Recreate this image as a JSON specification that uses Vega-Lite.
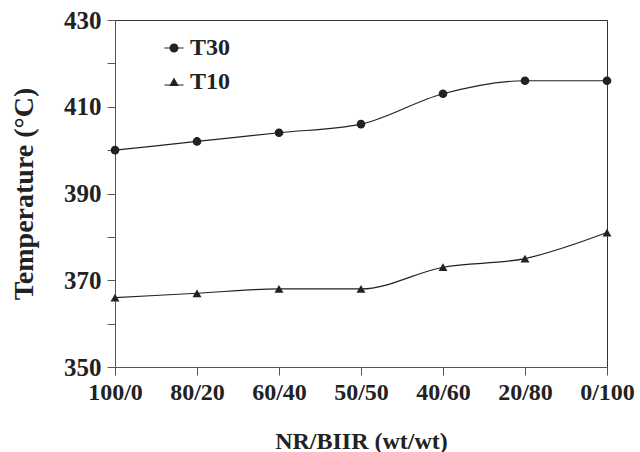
{
  "$schema": "https://vega.github.io/schema/vega-lite/v6.json",
  "width": 492,
  "height": 347,
  "autosize": {"type": "none"},
  "padding": {"left": 115, "top": 20, "right": 33, "bottom": 85},
  "background": "white",
  "config": {
    "view": {"stroke": "#333", "strokeWidth": 1},
    "font": "Liberation Serif"
  },
  "data": {
    "values": [
      {"blend": "100/0", "series": "T30", "temp": 400},
      {"blend": "80/20", "series": "T30", "temp": 402},
      {"blend": "60/40", "series": "T30", "temp": 404},
      {"blend": "50/50", "series": "T30", "temp": 406},
      {"blend": "40/60", "series": "T30", "temp": 413},
      {"blend": "20/80", "series": "T30", "temp": 416},
      {"blend": "0/100", "series": "T30", "temp": 416},
      {"blend": "100/0", "series": "T10", "temp": 366},
      {"blend": "80/20", "series": "T10", "temp": 367},
      {"blend": "60/40", "series": "T10", "temp": 368},
      {"blend": "50/50", "series": "T10", "temp": 368},
      {"blend": "40/60", "series": "T10", "temp": 373},
      {"blend": "20/80", "series": "T10", "temp": 375},
      {"blend": "0/100", "series": "T10", "temp": 381}
    ]
  },
  "encoding": {
    "x": {
      "field": "blend", "type": "ordinal",
      "sort": ["100/0", "80/20", "60/40", "50/50", "40/60", "20/80", "0/100"],
      "scale": {"type": "point", "padding": 0},
      "axis": {
        "title": "NR/BIIR (wt/wt)",
        "titleFont": "Liberation Serif", "titleFontSize": 24, "titleFontWeight": "bold", "titleColor": "#222",
        "titlePadding": 25,
        "labelFont": "Liberation Serif", "labelFontSize": 24, "labelFontWeight": "bold", "labelColor": "#222",
        "labelAngle": 0, "labelPadding": 5,
        "tickSize": 8, "tickColor": "#555", "domainColor": "#555", "grid": false
      }
    },
    "y": {
      "field": "temp", "type": "quantitative",
      "scale": {"domain": [350, 430], "nice": false, "zero": false},
      "axis": {
        "title": "Temperature (°C)",
        "titleFont": "Liberation Serif", "titleFontSize": 28, "titleFontWeight": "bold", "titleColor": "#222",
        "titlePadding": 25,
        "values": [350, 360, 370, 380, 390, 400, 410, 420, 430],
        "labelExpr": "(datum.value - 350) % 20 == 0 ? datum.label : ''",
        "labelFont": "Liberation Serif", "labelFontSize": 25, "labelFontWeight": "bold", "labelColor": "#222",
        "labelPadding": 6,
        "tickSize": 8, "tickColor": "#555", "domainColor": "#555", "grid": false
      }
    }
  },
  "layer": [
    {
      "mark": {"type": "line", "interpolate": "monotone", "color": "#222", "strokeWidth": 1.2},
      "encoding": {"detail": {"field": "series"}}
    },
    {
      "mark": {"type": "point", "filled": true, "opacity": 0, "size": 75, "color": "#222"},
      "encoding": {
        "shape": {
          "field": "series", "type": "nominal",
          "scale": {"domain": ["T30", "T10"], "range": ["M-1.9,-0.11H1.9V0.11H-1.9Z M-0.9,0A0.9,0.9 0 1,1 0.9,0A0.9,0.9 0 1,1 -0.9,0Z", "M-1.9,0.49H1.9V0.71H-1.9Z M-0.95,0.8L0,-0.9L0.95,0.8Z"]},
          "legend": {
            "title": null,
            "orient": "none", "legendX": 47, "legendY": 16,
            "labelFont": "Liberation Serif", "labelFontSize": 24, "labelFontWeight": "bold", "labelColor": "#222",
            "symbolSize": 100, "rowPadding": 10, "labelOffset": 4,
            "symbolOpacity": 1, "symbolFillColor": "#222", "symbolStrokeColor": "#222", "symbolStrokeWidth": 0
          }
        }
      }
    },
    {
      "transform": [{"filter": "datum.series == 'T30'"}],
      "mark": {"type": "point", "shape": "circle", "filled": true, "opacity": 1, "size": 75, "color": "#222"}
    },
    {
      "transform": [{"filter": "datum.series == 'T10'"}],
      "mark": {"type": "point", "shape": "triangle-up", "filled": true, "opacity": 1, "size": 80, "color": "#222"}
    }
  ]
}
